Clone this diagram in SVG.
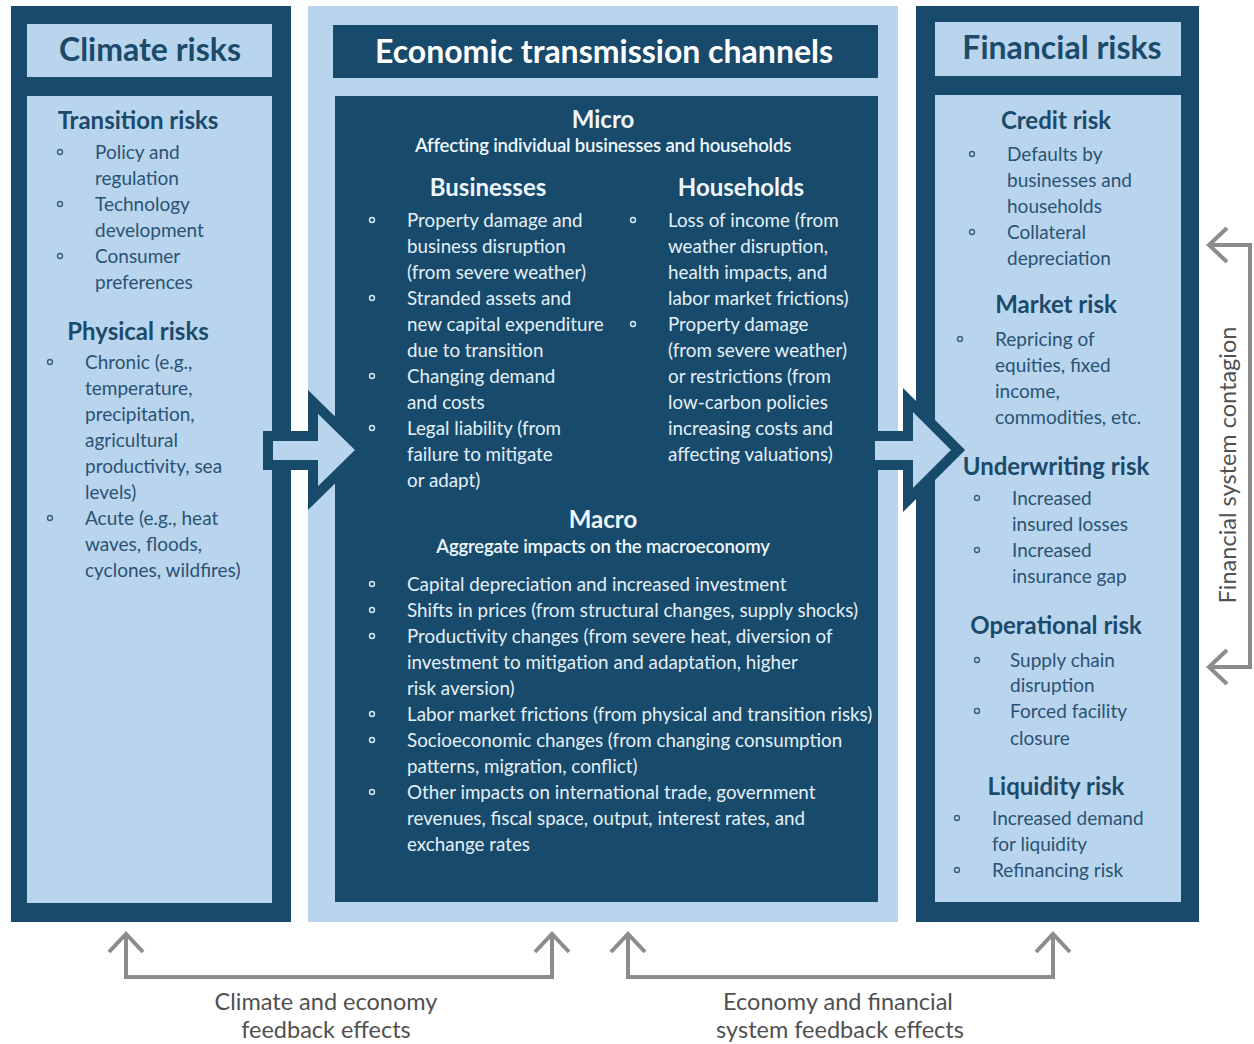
<svg xmlns="http://www.w3.org/2000/svg" width="1254" height="1044" viewBox="0 0 1254 1044">
  <style>
    .dark { fill: #174a6b; }
    .light { fill: #b9d5ee; }
    .title-d { font-family: Lato, "Liberation Sans", sans-serif; font-weight: bold; font-size: 32px; fill: #1b4a6a; text-anchor: middle; }
    .title-w { font-family: Lato, "Liberation Sans", sans-serif; font-weight: bold; font-size: 32px; fill: #ffffff; text-anchor: middle; }
    .head-d { font-family: Lato, "Liberation Sans", sans-serif; font-weight: bold; font-size: 24px; fill: #1b4a6a; text-anchor: middle; }
    .head-w { font-family: Lato, "Liberation Sans", sans-serif; font-weight: bold; font-size: 24px; fill: #eef6fc; text-anchor: middle; }
    .sub-w { font-family: Lato, "Liberation Sans", sans-serif; font-weight: 600; font-size: 18.6px; fill: #eef6fc; text-anchor: middle; letter-spacing: -0.2px; }
    .body-d { font-family: Lato, "Liberation Sans", sans-serif; font-size: 19px; fill: #2a5273; }
    .body-w { font-family: Lato, "Liberation Sans", sans-serif; font-size: 18.8px; fill: #e4f0f9; }
    .bul-d { fill: none; stroke: #3a5f7e; stroke-width: 1.4; }
    .bul-w { fill: none; stroke: #d9e9f5; stroke-width: 1.4; }
    .fb { fill: none; stroke: #8c8c8c; stroke-width: 4; stroke-linejoin: miter; }
    .big { fill: #b9d5ee; stroke: #174a6b; stroke-width: 10; stroke-linejoin: miter; }
    .note { font-family: Lato, "Liberation Sans", sans-serif; font-size: 23.5px; fill: #505050; text-anchor: middle; }
  </style>

  <rect width="1254" height="1044" fill="#ffffff"/>

  <!-- Climate risks column -->
  <g id="climate-risks">
    <rect class="dark" x="11" y="6" width="280" height="916"/>
    <rect class="light" x="27" y="24" width="245" height="53"/>
    <text class="title-d" x="150" y="61">Climate risks</text>
    <rect class="light" x="27" y="96" width="245" height="807"/>
    <text class="head-d" x="138" y="129">Transition risks</text>
    <g class="bul-d">
      <circle cx="60" cy="152" r="2.5"/>
      <circle cx="60" cy="204" r="2.5"/>
      <circle cx="60" cy="256" r="2.5"/>
    </g>
    <text class="body-d">
      <tspan x="95" y="159">Policy and</tspan>
      <tspan x="95" y="185">regulation</tspan>
      <tspan x="95" y="211">Technology</tspan>
      <tspan x="95" y="237">development</tspan>
      <tspan x="95" y="263">Consumer</tspan>
      <tspan x="95" y="289">preferences</tspan>
    </text>
    <text class="head-d" x="138" y="340">Physical risks</text>
    <g class="bul-d">
      <circle cx="50" cy="362" r="2.5"/>
      <circle cx="50" cy="518" r="2.5"/>
    </g>
    <text class="body-d">
      <tspan x="85" y="369">Chronic (e.g.,</tspan>
      <tspan x="85" y="395">temperature,</tspan>
      <tspan x="85" y="421">precipitation,</tspan>
      <tspan x="85" y="447">agricultural</tspan>
      <tspan x="85" y="473">productivity, sea</tspan>
      <tspan x="85" y="499">levels)</tspan>
      <tspan x="85" y="525">Acute (e.g., heat</tspan>
      <tspan x="85" y="551">waves, floods,</tspan>
      <tspan x="85" y="577">cyclones, wildfires)</tspan>
    </text>
  </g>

  <!-- Economic transmission channels column -->
  <g id="transmission-channels">
    <rect class="light" x="308" y="6" width="590" height="916"/>
    <rect class="dark" x="333" y="25" width="545" height="53"/>
    <text class="title-w" x="604" y="63">Economic transmission channels</text>
    <rect class="dark" x="335" y="96" width="543" height="806"/>
    <text class="head-w" x="603" y="128">Micro</text>
    <text class="sub-w" x="603" y="152">Affecting individual businesses and households</text>
    <text class="head-w" x="488" y="196">Businesses</text>
    <text class="head-w" x="741" y="196">Households</text>
    <g class="bul-w">
      <circle cx="372" cy="220" r="2.5"/>
      <circle cx="372" cy="298" r="2.5"/>
      <circle cx="372" cy="376" r="2.5"/>
      <circle cx="372" cy="428" r="2.5"/>
      <circle cx="633" cy="220" r="2.5"/>
      <circle cx="633" cy="324" r="2.5"/>
    </g>
    <text class="body-w">
      <tspan x="407" y="227">Property damage and</tspan>
      <tspan x="407" y="253">business disruption</tspan>
      <tspan x="407" y="279">(from severe weather)</tspan>
      <tspan x="407" y="305">Stranded assets and</tspan>
      <tspan x="407" y="331">new capital expenditure</tspan>
      <tspan x="407" y="357">due to transition</tspan>
      <tspan x="407" y="383">Changing demand</tspan>
      <tspan x="407" y="409">and costs</tspan>
      <tspan x="407" y="435">Legal liability (from</tspan>
      <tspan x="407" y="461">failure to mitigate</tspan>
      <tspan x="407" y="487">or adapt)</tspan>
    </text>
    <text class="body-w">
      <tspan x="668" y="227">Loss of income (from</tspan>
      <tspan x="668" y="253">weather disruption,</tspan>
      <tspan x="668" y="279">health impacts, and</tspan>
      <tspan x="668" y="305">labor market frictions)</tspan>
      <tspan x="668" y="331">Property damage</tspan>
      <tspan x="668" y="357">(from severe weather)</tspan>
      <tspan x="668" y="383">or restrictions (from</tspan>
      <tspan x="668" y="409">low-carbon policies</tspan>
      <tspan x="668" y="435">increasing costs and</tspan>
      <tspan x="668" y="461">affecting valuations)</tspan>
    </text>
    <text class="head-w" x="603" y="528">Macro</text>
    <text class="sub-w" x="603" y="553">Aggregate impacts on the macroeconomy</text>
    <g class="bul-w">
      <circle cx="372" cy="584" r="2.5"/>
      <circle cx="372" cy="610" r="2.5"/>
      <circle cx="372" cy="636" r="2.5"/>
      <circle cx="372" cy="714" r="2.5"/>
      <circle cx="372" cy="740" r="2.5"/>
      <circle cx="372" cy="792" r="2.5"/>
    </g>
    <text class="body-w">
      <tspan x="407" y="591">Capital depreciation and increased investment</tspan>
      <tspan x="407" y="617">Shifts in prices (from structural changes, supply shocks)</tspan>
      <tspan x="407" y="643">Productivity changes (from severe heat, diversion of</tspan>
      <tspan x="407" y="669">investment to mitigation and adaptation, higher</tspan>
      <tspan x="407" y="695">risk aversion)</tspan>
      <tspan x="407" y="721">Labor market frictions (from physical and transition risks)</tspan>
      <tspan x="407" y="747">Socioeconomic changes (from changing consumption</tspan>
      <tspan x="407" y="773">patterns, migration, conflict)</tspan>
      <tspan x="407" y="799">Other impacts on international trade, government</tspan>
      <tspan x="407" y="825">revenues, fiscal space, output, interest rates, and</tspan>
      <tspan x="407" y="851">exchange rates</tspan>
    </text>
  </g>

  <!-- Financial risks column -->
  <g id="financial-risks">
    <rect class="dark" x="916" y="6" width="283" height="916"/>
    <rect class="light" x="935" y="22" width="246" height="54"/>
    <text class="title-d" x="1062" y="59">Financial risks</text>
    <rect class="light" x="935" y="95" width="246" height="807"/>
    <text class="head-d" x="1056" y="129">Credit risk</text>
    <text class="head-d" x="1056" y="313">Market risk</text>
    <text class="head-d" x="1056" y="475">Underwriting risk</text>
    <text class="head-d" x="1056" y="634">Operational risk</text>
    <text class="head-d" x="1056" y="795">Liquidity risk</text>
    <g class="bul-d">
      <circle cx="972" cy="154" r="2.5"/>
      <circle cx="972" cy="232" r="2.5"/>
      <circle cx="960" cy="339" r="2.5"/>
      <circle cx="977" cy="498" r="2.5"/>
      <circle cx="977" cy="550" r="2.5"/>
      <circle cx="977" cy="660" r="2.5"/>
      <circle cx="977" cy="711" r="2.5"/>
      <circle cx="957" cy="818" r="2.5"/>
      <circle cx="957" cy="870" r="2.5"/>
    </g>
    <text class="body-d">
      <tspan x="1007" y="161">Defaults by</tspan>
      <tspan x="1007" y="187">businesses and</tspan>
      <tspan x="1007" y="213">households</tspan>
      <tspan x="1007" y="239">Collateral</tspan>
      <tspan x="1007" y="265">depreciation</tspan>
    </text>
    <text class="body-d">
      <tspan x="995" y="346">Repricing of</tspan>
      <tspan x="995" y="372">equities, fixed</tspan>
      <tspan x="995" y="398">income,</tspan>
      <tspan x="995" y="424">commodities, etc.</tspan>
    </text>
    <text class="body-d">
      <tspan x="1012" y="505">Increased</tspan>
      <tspan x="1012" y="531">insured losses</tspan>
      <tspan x="1012" y="557">Increased</tspan>
      <tspan x="1012" y="583">insurance gap</tspan>
    </text>
    <text class="body-d">
      <tspan x="1010" y="667">Supply chain</tspan>
      <tspan x="1010" y="692">disruption</tspan>
      <tspan x="1010" y="718">Forced facility</tspan>
      <tspan x="1010" y="745">closure</tspan>
    </text>
    <text class="body-d">
      <tspan x="992" y="825">Increased demand</tspan>
      <tspan x="992" y="851">for liquidity</tspan>
      <tspan x="992" y="877">Refinancing risk</tspan>
    </text>
  </g>

  <!-- Connectors: block arrows, feedback loops, contagion loop -->
  <g id="connectors">
    <polygon class="big" points="268,436 313,436 313,402 362,450 313,498 313,465 268,465"/>
    <polygon class="big" points="870,436 908,436 908,400 958,450 908,500 908,465 870,465"/>

    <path class="fb" d="M126,934 V977 H552 V934"/>
    <path class="fb" d="M109,952 L126,934 L143,952"/>
    <path class="fb" d="M535,952 L552,934 L569,952"/>

    <path class="fb" d="M628,934 V977 H1053 V934"/>
    <path class="fb" d="M611,952 L628,934 L645,952"/>
    <path class="fb" d="M1036,952 L1053,934 L1070,952"/>

    <path class="fb" d="M1209,245 H1250 V667 H1209"/>
    <path class="fb" d="M1227,228 L1209,245 L1227,262"/>
    <path class="fb" d="M1227,650 L1209,667 L1227,684"/>
  </g>

  <text class="note" x="326" y="1010">Climate and economy</text>
  <text class="note" x="326" y="1038">feedback effects</text>
  <text class="note" x="838" y="1010">Economy and financial</text>
  <text class="note" x="840" y="1038">system feedback effects</text>
  <text class="note" transform="translate(1236,465) rotate(-90)">Financial system contagion</text>
</svg>
